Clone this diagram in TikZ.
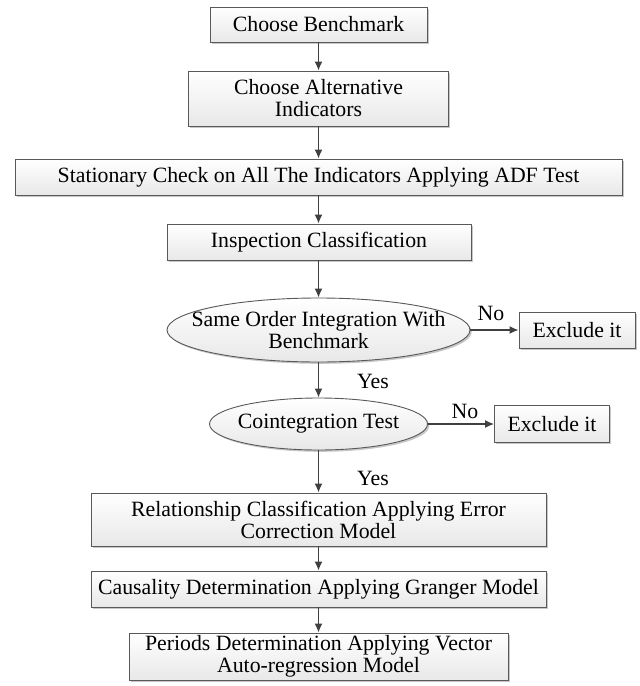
\documentclass[tikz,border=0pt]{standalone}
\usepackage{fontspec}
\setmainfont{Liberation Serif}
\usetikzlibrary{arrows.meta,shapes.geometric,shadows}
\definecolor{edge}{HTML}{595959}
\definecolor{arrowc}{HTML}{404040}
\tikzset{
  boxbase/.style={draw=edge, line width=0.9pt, top color=white, bottom color=gray!18,
    drop shadow={shadow xshift=1.8pt, shadow yshift=-1.8pt, fill=gray!55, opacity=0.8},
    inner sep=0pt, align=center, font=\fontsize{21.8}{22}\selectfont},
  stepbox/.style={boxbase, rectangle},
  decision/.style={boxbase, ellipse},
  flow/.style={draw=arrowc, line width=1.4pt, -{Latex[length=9pt,width=8pt]}},
  lbl/.style={font=\fontsize{21.8}{22}\selectfont, inner sep=0pt}
}
\begin{document}
\begin{tikzpicture}[x=1pt,y=1pt]
\useasboundingbox (0,0) rectangle (640,-686);
\node[stepbox, minimum width=217, minimum height=35] (b1) at (318.5,-24.5) {Choose Benchmark};
\node[stepbox, minimum width=260, minimum height=55] (b2) at (318.5,-98.5) {Choose Alternative\\Indicators};
\node[stepbox, minimum width=607, minimum height=36] (b3) at (318.5,-177) {Stationary Check on All The Indicators Applying ADF Test};
\node[stepbox, minimum width=304, minimum height=36] (b4) at (319,-242) {Inspection Classification};
\node[decision, minimum width=303, minimum height=64,
  label={[lbl, align=center]center:Same Order Integration With\\Benchmark}] (e1) at (318.5,-330) {};
\node[stepbox, minimum width=116, minimum height=36] (x1) at (577,-330) {Exclude it};
\node[decision, minimum width=218, minimum height=52,
  label={[lbl]center:Cointegration Test}] (e2) at (318.5,-424) {};
\node[stepbox, minimum width=115, minimum height=37] (x2) at (552,-424) {Exclude it};
\node[stepbox, minimum width=455, minimum height=53] (b5) at (318.5,-519.5) {Relationship Classification Applying Error\\Correction Model};
\node[stepbox, minimum width=455, minimum height=36] (b6) at (318.5,-589) {Causality Determination Applying Granger Model};
\node[stepbox, minimum width=379, minimum height=47] (b7) at (318.5,-656.5) {Periods Determination Applying Vector\\Auto-regression Model};

\draw[flow] (b1.south) -- (b2.north);
\draw[flow] (b2.south) -- (b3.north);
\draw[flow] (b3.south) -- (b4.north -| b3.south);
\draw[flow] (b4.south -| e1.north) -- (e1.north);
\draw[flow] (e1.south) -- (e2.north);
\draw[flow] (e2.south) -- (b5.north);
\draw[flow] (b5.south) -- (b6.north);
\draw[flow] (b6.south) -- (b7.north);
\draw[flow] (e1.east) -- (x1.west);
\draw[flow] (e2.east) -- (x2.west);

\node[lbl] (no1) at (491,-313) {No};
\node[lbl] (no2) at (465,-411) {No};
\node[lbl] (yes1) at (373,-381) {Yes};
\node[lbl] (yes2) at (373,-478) {Yes};
\end{tikzpicture}
\end{document}
